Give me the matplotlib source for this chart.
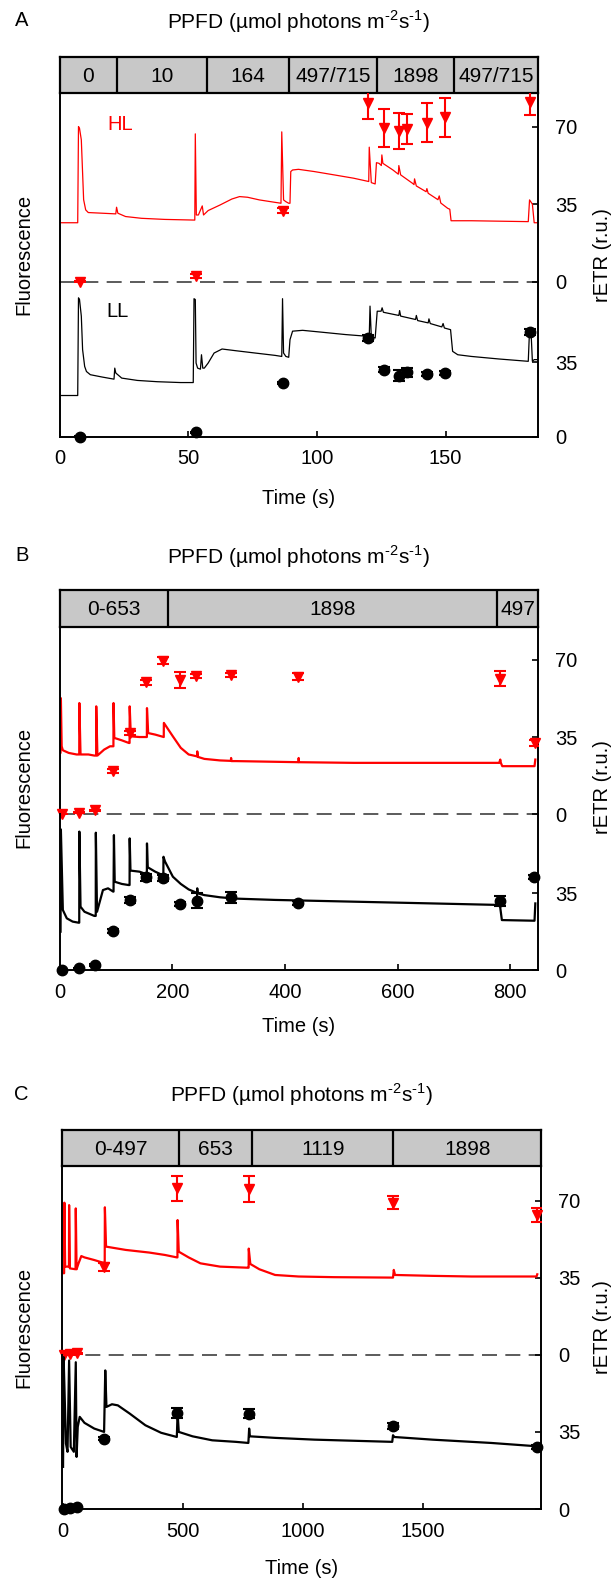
import matplotlib
matplotlib.use('Agg')
import matplotlib.pyplot as plt

plt.rcParams['font.family'] = ['Liberation Sans', 'DejaVu Sans']
plt.rcParams['mathtext.fontset'] = 'custom'
plt.rcParams['mathtext.rm'] = 'Liberation Sans'

# ---------------- Panel A data ----------------
a_box_edges = [0, 22.1, 57.4, 89.0, 123.5, 153.1, 186]
a_box_labels = ['0', '10', '164', '497/715', '1898', '497/715']
a_xticks = [0, 50, 100, 150]

a_hl_trace_t = [0, 7.0, 7.3, 7.7, 8.4, 8.9, 9.3, 10.1, 11.1, 16.5, 21.8, 22.1, 22.6, 25.6, 31.8, 40.9,
                52.5, 52.7, 53.1, 53.9, 55.4, 55.9, 57.7, 62.3, 66.9, 69.9, 73.0, 77.6, 83.7, 86.0,
                86.3, 87.0, 87.9, 89.0, 89.5, 89.8, 90.5, 92.8, 98.9, 106.6, 114.2, 120.1, 120.3,
                121.1, 122.6, 123.1, 124.1, 125.0, 125.2, 125.6, 129.5, 131.6, 131.8, 132.5, 137.1,
                137.7, 137.9, 138.6, 142.4, 142.7, 143.2, 147.0, 147.5, 148.1, 150.8, 151.6, 152.1,
                160.0, 182.1, 182.6, 183.7, 184.4, 186]
a_hl_trace_f = [26.6, 26.6, 70.0, 69.2, 64.0, 49.0, 37.0, 32.4, 31.2, 30.9, 30.6, 33.6, 30.9, 29.4, 28.6, 28.1,
                27.8, 66.7, 30.1, 30.1, 34.2, 30.1, 32.1, 34.6, 37.3, 38.4, 38.1, 36.9, 35.8, 35.4,
                67.6, 36.9, 36.1, 35.4, 35.4, 49.7, 50.4, 50.7, 49.7, 48.2, 46.7, 45.2, 60.7,
                44.7, 44.1, 53.7, 53.4, 52.4, 57.2, 53.4, 50.4, 48.5, 52.4, 48.2, 44.4,
                43.8, 46.4, 43.2, 40.6, 42.0, 39.9, 37.0, 38.7, 35.5, 33.1, 32.7, 27.5,
                27.5, 27.1, 36.9, 35.0, 26.6, 26.6]

a_ll_trace_t = [0, 7.0, 7.3, 7.7, 8.4, 8.9, 9.7, 10.4, 11.9, 16.5, 21.1, 21.4, 21.8, 24.1, 30.2, 37.9,
                47.0, 51.9, 52.2, 52.7, 53.0, 53.6, 54.7, 55.1, 55.6, 56.2, 57.7, 60.0, 63.1, 68.4,
                76.0, 83.7, 86.3, 86.6, 87.0, 87.9, 89.0, 89.5, 90.5, 94.4, 102.0, 111.1, 119.5,
                120.3, 120.6, 121.1, 122.6, 123.4, 124.9, 125.3, 125.8, 131.8, 132.1, 132.5, 138.3,
                138.6, 139.1, 143.2, 143.5, 144.0, 148.5, 149.0, 149.5, 151.9, 152.7, 154.7, 160.0,
                170.7, 182.1, 182.6, 183.2, 183.7, 184.4, 186]
a_ll_trace_f = [19.4, 19.4, 65.4, 64.6, 56.8, 41.0, 33.1, 30.7, 29.2, 28.1, 27.1, 32.3, 30.0, 27.6, 26.5, 25.9,
                25.5, 25.5, 65.0, 64.6, 34.7, 32.3, 31.8, 38.6, 32.3, 32.3, 34.7, 39.4, 41.3, 40.5,
                39.4, 38.3, 37.8, 65.0, 39.4, 37.8, 37.4, 45.7, 49.7, 50.1, 49.2, 48.1, 47.3,
                47.0, 61.5, 47.0, 46.5, 59.1, 59.1, 60.7, 58.6, 57.1, 59.4, 56.8, 55.2,
                57.1, 54.7, 53.6, 55.5, 53.3, 51.7, 53.3, 51.2, 50.4, 40.2, 38.6, 37.8,
                36.6, 35.5, 50.4, 48.9, 35.5, 36.3, 36.3]

a_hl_t = [7.7, 52.8, 86.7, 119.8, 126.0, 131.9, 134.8, 142.9, 149.8, 182.9]
a_hl_v = [0.0, 2.6, 32.1, 80.5, 69.5, 68.0, 68.9, 71.8, 74.2, 81.0]
a_hl_err = [0.3, 0.8, 1.2, 7.2, 8.6, 8.3, 6.8, 8.8, 8.7, 5.9]
a_ll_t = [7.7, 52.8, 86.7, 119.8, 126.0, 131.9, 134.8, 142.9, 149.8, 182.9]
a_ll_v = [0.0, 2.0, 25.2, 46.5, 31.5, 28.7, 30.3, 29.6, 30.0, 49.3]
a_ll_err = [0.2, 0.3, 0.5, 1.5, 1.2, 2.5, 2.0, 1.0, 1.0, 1.5]

# ---------------- Panel B data ----------------
b_box_edges = [0, 192.7, 777, 850]
b_box_labels = ['0-653', '1898', '497']
b_xticks = [0, 200, 400, 600, 800]

b_hl_trace_t = [1.5, 2.1, 3.5, 5.6, 16.1, 30.0, 34.7, 34.9, 37.0, 51.0, 61.4, 64.7, 64.9, 67.0, 78.9,
                89.4, 95.4, 95.6, 97.0, 110.3, 122.9, 124.1, 124.3, 126.4, 141.7, 154.8, 155.0, 157.1,
                169.6, 184.8, 185.0, 187.1, 201.0, 215.0, 229.0, 242.9, 244.1, 244.3, 245.5, 256.9,
                284.8, 304.0, 304.4, 305.0, 312.7, 424.0, 424.4, 425.0, 522.2, 780.5, 782.5, 783.5,
                786.0, 843.3, 844.7]
b_hl_trace_f = [28.0, 52.6, 30.8, 29.0, 27.8, 27.1, 27.1, 50.4, 27.1, 27.1, 26.6, 26.6, 48.9, 26.6, 29.3,
                30.8, 30.8, 50.4, 34.6, 33.5, 32.3, 32.3, 48.9, 35.3, 35.0, 35.0, 48.1, 36.8,
                36.1, 35.0, 41.4, 40.6, 35.3, 30.1, 27.1, 26.3, 26.2, 28.5, 26.0, 25.1,
                24.4, 24.2, 25.5, 24.1, 24.1, 23.6, 25.5, 23.6, 23.3, 23.3, 24.8, 23.3,
                21.8, 21.8, 24.8]

b_ll_trace_t = [1.5, 2.1, 5.6, 12.6, 23.0, 33.5, 34.7, 34.9, 37.0, 44.0, 61.4, 64.0, 64.2, 66.3, 76.8,
                85.9, 94.9, 95.6, 96.3, 97.7, 110.3, 122.2, 124.1, 124.3, 125.7, 141.7, 153.6, 154.8,
                155.0, 156.4, 169.6, 182.2, 184.1, 184.3, 187.1, 201.0, 215.0, 229.0, 242.9, 244.1,
                244.3, 245.0, 256.9, 284.8, 312.7, 382.5, 522.2, 661.8, 781.8, 785.3, 843.3, 844.7]
b_ll_trace_f = [17.5, 64.2, 27.4, 23.6, 22.1, 21.6, 21.6, 63.2, 28.9, 26.6, 24.7, 24.7, 62.7, 26.6, 36.5,
                37.3, 35.8, 35.8, 61.6, 40.3, 39.3, 38.8, 38.8, 60.1, 45.4, 44.9, 43.8, 43.8,
                57.8, 46.9, 44.9, 43.4, 43.4, 51.7, 49.5, 42.6, 39.3, 36.8, 35.3, 35.2,
                37.3, 35.0, 34.2, 33.2, 32.6, 32.0, 31.2, 30.4, 29.7, 22.8, 22.5, 30.4]

b_hl_t = [3.5, 34.9, 62.8, 94.2, 124.3, 153.6, 183.6, 213.6, 242.9, 303.7, 423.0, 781.8, 843.3]
b_hl_v = [0.0, 0.8, 1.8, 19.5, 36.8, 59.7, 69.6, 60.9, 62.7, 63.2, 62.4, 61.4, 32.3]
b_hl_err = [0.3, 0.3, 0.3, 0.8, 1.0, 1.2, 1.5, 3.6, 1.0, 1.0, 1.5, 3.5, 1.5]
b_ll_t = [3.5, 34.9, 62.8, 94.2, 124.3, 153.6, 183.6, 213.6, 244.3, 303.7, 423.0, 781.8, 842.0]
b_ll_v = [0.0, 0.8, 2.3, 17.8, 32.0, 42.3, 42.0, 30.1, 31.7, 33.2, 30.7, 31.5, 42.6]
b_ll_err = [0.2, 0.3, 0.3, 0.8, 1.5, 1.5, 1.5, 1.0, 3.6, 2.5, 1.0, 2.5, 1.0]

# ---------------- Panel C data ----------------
c_box_edges = [-3, 483, 789, 1377, 1994]
c_box_labels = ['0-497', '653', '1119', '1898']
c_xticks = [0, 500, 1000, 1500]

c_hl_trace_t = [3.3, 5.5, 6.5, 9.8, 19.6, 25.5, 26.2, 29.5, 53.0, 54.0, 57.3, 65.5, 77.0, 90.1, 131.0,
                167.0, 174.5, 175.2, 180.1, 196.5, 262.0, 360.2, 425.7, 474.9, 477.5, 478.1, 483.0,
                524.0, 573.1, 655.0, 769.6, 774.0, 774.5, 781.1, 818.7, 884.2, 982.5, 1129.9, 1375.5,
                1378.7, 1383.7, 1539.2, 1703.0, 1973.2, 1976.4]
c_hl_trace_f = [37.0, 37.0, 69.1, 40.0, 40.0, 40.0, 68.0, 39.2, 38.8, 66.5, 38.8, 41.5, 44.8, 44.2, 43.0,
                41.8, 41.5, 67.0, 49.1, 48.8, 47.6, 46.4, 45.3, 44.2, 44.2, 61.2, 46.8,
                44.2, 41.5, 40.0, 39.5, 39.5, 48.2, 41.2, 38.8, 36.2, 35.5, 35.2, 35.0,
                38.5, 36.2, 35.8, 35.5, 35.5, 36.5]

c_ll_trace_t = [1.0, 3.3, 8.2, 13.1, 19.6, 26.2, 32.7, 45.9, 54.0, 57.3, 62.2, 70.4, 90.1, 131.0, 171.9,
                176.8, 181.8, 204.7, 229.2, 278.4, 343.9, 409.4, 474.9, 478.1, 483.0, 540.4, 622.2,
                720.5, 772.9, 776.2, 779.4, 884.2, 1048.0, 1372.2, 1375.5, 1380.4, 1539.2, 1784.8, 1974.8]
c_ll_trace_f = [19.2, 68.8, 49.3, 29.7, 26.0, 67.3, 28.2, 26.0, 66.5, 23.7, 37.3, 41.8, 39.1, 36.5, 35.0,
                62.8, 46.3, 47.5, 47.0, 43.3, 38.0, 34.6, 32.7, 43.6, 35.0, 33.0, 31.2,
                30.5, 30.0, 36.5, 33.0, 32.3, 31.5, 30.5, 33.5, 32.7, 31.5, 30.0, 28.5]

c_hl_t = [3.3, 29.5, 57.3, 172.0, 476.5, 774.5, 1375.5, 1975.0]
c_hl_v = [0.0, 0.2, 0.6, 40.0, 75.6, 75.3, 69.1, 63.5]
c_hl_err = [0.3, 0.3, 0.3, 1.8, 5.7, 6.0, 2.9, 3.0]
c_ll_t = [3.3, 29.5, 57.3, 173.6, 476.5, 774.5, 1375.5, 1975.0]
c_ll_v = [0.0, 0.45, 0.9, 32.0, 43.7, 43.3, 37.6, 28.1]
c_ll_err = [0.2, 0.2, 0.2, 0.8, 2.2, 2.0, 1.5, 0.8]

rETR_ticks_upper = [0, 35, 70]
rETR_ticks_lower = [0, 35]

# ---------------- Layout ----------------
W, H = 615, 1583
fig = plt.figure(figsize=(W / 100, H / 100), dpi=100)

RED = '#ff0000'
FS = 14.5


def rect(x0, x1, ytop, ybot):
    return [x0 / W, 1 - ybot / H, (x1 - x0) / W, (ybot - ytop) / H]


def panel(letter, x0, x1, y_title, y_box, y_up, y_dash, y_low, y_time,
          edges, labels, xticks, up_lim, low_lim, lw,
          hl_tt, hl_tf, ll_tt, ll_tf, hl_t, hl_v, hl_e, ll_t, ll_v, ll_e, hl_ll_labels=False):
    xlim = (edges[0], edges[-1])
    # light-level box
    axb = fig.add_axes(rect(x0, x1, y_box, y_up))
    axb.set_facecolor('#c8c8c8')
    axb.set_xlim(*xlim)
    axb.set_ylim(0, 1)
    axb.set_xticks([])
    axb.set_yticks([])
    for s in axb.spines.values():
        s.set_linewidth(1.6)
    for e in edges[1:-1]:
        axb.axvline(e, color='black', lw=1.6)
    for i, lab in enumerate(labels):
        axb.text((edges[i] + edges[i + 1]) / 2, 0.47, lab, ha='center', va='center', fontsize=FS + 0.5)

    # upper (HL) and lower (LL) axes
    axu = fig.add_axes(rect(x0, x1, y_up, y_dash))
    axl = fig.add_axes(rect(x0, x1, y_dash, y_low), sharex=axu)
    axu.set_xlim(*xlim)
    axu.set_ylim(0, up_lim)
    axl.set_ylim(0, low_lim)
    for ax in (axu, axl):
        ax.patch.set_alpha(0)
        for s in ax.spines.values():
            s.set_linewidth(1.4)
        ax.yaxis.tick_right()
        ax.tick_params(axis='y', direction='in', length=4, width=1.2, labelsize=FS, pad=12,
                       left=False, right=True)
    axu.spines['bottom'].set_visible(False)
    axl.spines['top'].set_visible(False)
    axu.set_yticks(rETR_ticks_upper)
    axl.set_yticks(rETR_ticks_lower)
    axu.tick_params(axis='x', bottom=False, labelbottom=False)
    axl.set_xticks(xticks)
    axl.tick_params(axis='x', direction='in', length=4, width=1.2, labelsize=FS, pad=9)
    axu.axhline(0, color='#404040', lw=1.2, ls=(0, (9, 5)), clip_on=False, zorder=1)

    # fluorescence traces
    axu.plot(hl_tt, hl_tf, color=RED, lw=lw, zorder=2)
    axl.plot(ll_tt, ll_tf, color='black', lw=lw, zorder=2)

    # rETR points
    axu.errorbar(hl_t, hl_v, yerr=hl_e, fmt='none', ecolor=RED, elinewidth=1.5, capsize=4.5,
                 capthick=1.5, zorder=3)
    axu.plot(hl_t, hl_v, 'v', color=RED, ms=7.5, clip_on=False, zorder=4)
    axl.errorbar(ll_t, ll_v, yerr=ll_e, fmt='none', ecolor='black', elinewidth=1.5, capsize=4.5,
                 capthick=1.5, zorder=3)
    axl.plot(ll_t, ll_v, 'o', color='black', ms=7.5, clip_on=False, zorder=4)

    if hl_ll_labels:
        axu.text(23.4, 70.7, 'HL', color=RED, fontsize=FS, ha='center', va='center')
        axl.text(22.6, 59.1, 'LL', color='black', fontsize=FS, ha='center', va='center')

    xc = (x0 + x1) / 2
    fig.text(21.6 / W, 1 - (y_title - 1) / H, letter, fontsize=FS, ha='center', va='center')
    fig.text(xc / W, 1 - y_title / H,
             r'PPFD (µmol photons m$^{\mathregular{\text{-2}}}$s$^{\mathregular{\text{-1}}}$)',
             fontsize=FS + 0.5, ha='center', va='center')
    fig.text(xc / W, 1 - y_time / H, 'Time (s)', fontsize=FS, ha='center', va='center')
    fig.text(24 / W, 1 - (y_dash - 27) / H, 'Fluorescence', fontsize=FS, rotation=90,
             ha='center', va='center')
    fig.text(602 / W, 1 - (y_dash - 27) / H, 'rETR (r.u.)', fontsize=FS, rotation=90,
             ha='center', va='center')


panel('A', 59.7, 538.3, 21.7, 57.3, 93.3, 281.7, 436.7, 498,
      a_box_edges, a_box_labels, a_xticks, 85.0, 73.0, 0.9,
      a_hl_trace_t, a_hl_trace_f, a_ll_trace_t, a_ll_trace_f,
      a_hl_t, a_hl_v, a_hl_err, a_ll_t, a_ll_v, a_ll_err, hl_ll_labels=True)

panel('B', 59.7, 538.3, 556.7, 590, 627.3, 814.3, 970, 1027,
      b_box_edges, b_box_labels, b_xticks, 84.7, 71.1, 1.6,
      b_hl_trace_t, b_hl_trace_f, b_ll_trace_t, b_ll_trace_f,
      b_hl_t, b_hl_v, b_hl_err, b_ll_t, b_ll_v, b_ll_err)

panel('C', 62.1, 541.5, 1095, 1130, 1166, 1354.5, 1509.3, 1568,
      c_box_edges, c_box_labels, c_xticks, 85.8, 70.0, 1.6,
      c_hl_trace_t, c_hl_trace_f, c_ll_trace_t, c_ll_trace_f,
      c_hl_t, c_hl_v, c_hl_err, c_ll_t, c_ll_v, c_ll_err)

fig.savefig('out.png', dpi=100)
